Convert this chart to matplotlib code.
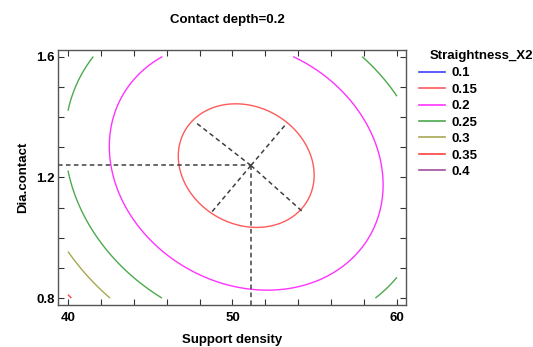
import numpy as np
import matplotlib
matplotlib.use('agg')
import matplotlib.pyplot as plt
from matplotlib.lines import Line2D

plt.rcParams['font.family'] = ['Liberation Sans', 'DejaVu Sans']
plt.rcParams['font.weight'] = 'bold'

# fitted second-order model for Straightness_X2 at contact depth 0.2
# coded: u = (support - 50) / 10, v = (dia - 1.2) / 0.4
# terms: 1, u, v, u^2, v^2, u*v
coef = [0.13515, -0.01875, -0.01445, 0.09808, 0.06387, 0.02442]

levels = [0.1, 0.15, 0.2, 0.25, 0.3, 0.35, 0.4]
level_labels = ['0.1', '0.15', '0.2', '0.25', '0.3', '0.35', '0.4']
colors = ['#4040ff', '#ff5a5a', '#ff33ff', '#4caa4c', '#a8a850', '#ff4040', '#a050a0']

support_range = (40, 60)
dia_range = (0.8, 1.6)

# optimum and where the ridge lines meet the 0.15 contour
opt = (51.12, 1.2393)
ridge_x = [47.72, 54.22, 53.31, 48.69]
ridge_y = [1.3835, 1.0884, 1.380, 1.0818]


def model(x, y):
    u = (x - 50) / 10.0
    v = (y - 1.2) / 0.4
    return (coef[0] + coef[1]*u + coef[2]*v + coef[3]*u*u
            + coef[4]*v*v + coef[5]*u*v)


fig = plt.figure(figsize=(5.33, 3.47), dpi=100)
ax = fig.add_axes([0.1088, 0.121, 0.6529, 0.735])

xx, yy = np.meshgrid(np.linspace(*support_range, 301), np.linspace(*dia_range, 301))
zz = model(xx, yy)
ax.contour(xx, yy, zz, levels=levels, colors=colors, linewidths=1.0)

# dashed guides to the optimum
ax.set_xlim(39.39, 60.55)
ax.set_ylim(0.777, 1.622)
dash = dict(color='#404040', lw=1.1, ls=(0, (3, 2.2)))
ax.plot([ax.get_xlim()[0], opt[0]], [opt[1], opt[1]], **dash)
ax.plot([opt[0], opt[0]], [ax.get_ylim()[0], opt[1]], **dash)
for rx, ry in zip(ridge_x, ridge_y):
    ax.plot([opt[0], rx], [opt[1], ry], **dash)

ax.set_xticks([40, 50, 60])
ax.set_xticks(np.arange(40, 61, 2), minor=True)
ax.set_yticks([0.8, 1.2, 1.6])
ax.set_yticks(np.arange(0.8, 1.61, 0.1), minor=True)
ax.set_yticklabels(['0.8', '1.2', '1.6'])
ax.tick_params(which='both', direction='in', length=4, width=0.8,
               top=True, right=True, labelsize=9.5, colors='#333333',
               labelcolor='black')
ax.tick_params(axis='x', which='both', pad=5)
ax.tick_params(axis='y', which='both', pad=2.5)
for s in ax.spines.values():
    s.set_color('#555555')
    s.set_linewidth(1.0)

ax.set_xlabel('Support density', fontsize=9.5, fontweight='bold', labelpad=7)
ax.set_ylabel('Dia.contact', fontsize=9.5, fontweight='bold', labelpad=5)
ax.set_title('Contact depth=0.2', fontsize=9.5, fontweight='bold', pad=19.5, x=0.488)

handles = [Line2D([], [], color=c, lw=1.2) for c in colors]
fig.text(430 / 533, 1 - 56 / 347, 'Straightness_X2', fontsize=9.5,
         fontweight='bold', ha='left', va='center')
leg = fig.legend(handles, level_labels,
                 loc='upper left', bbox_to_anchor=(419 / 533, 1 - 67 / 347),
                 frameon=False, fontsize=9.5, handlelength=2.0,
                 handletextpad=0.5, labelspacing=0.32, borderpad=0,
                 borderaxespad=0)

fig.savefig('out.png', dpi=100)
